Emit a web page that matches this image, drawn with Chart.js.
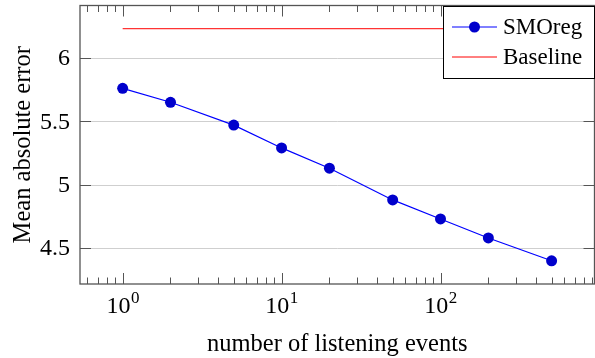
<!DOCTYPE html>
<html>
<head>
<meta charset="utf-8">
<script src="https://cdn.jsdelivr.net/npm/chart.js@4"></script>
<style>
  html, body { margin: 0; padding: 0; background: #fff; overflow: hidden; }
  #wrap { width: 600px; height: 358px; }
</style>
</head>
<body>
<div id="wrap"><canvas id="chart" width="600" height="358"></canvas></div>
<script>
// --- DONNEES ---
const events = [1, 2, 5, 10, 20, 50, 100, 200, 500];
const smoreg = [5.76, 5.65, 5.47, 5.29, 5.13, 4.88, 4.73, 4.58, 4.40];
const baselineX = [1, 500];
const baselineY = [6.23, 6.23];
const yTicks = [4.5, 5, 5.5, 6];
const yTickLabels = ['4.5', '5', '5.5', '6'];
const xMajor = [1, 10, 100];
const xMajorExp = ['0', '1', '2'];
const xMinor = [0.6, 0.7, 0.8, 0.9, 2, 3, 4, 5, 6, 7, 8, 9, 20, 30, 40, 50, 60, 70, 80, 90, 200, 300, 400, 500, 600, 700, 800, 900];

const FONT = '"Liberation Serif", "DejaVu Serif", serif';
const AXIS = '#555';

// --- AXES FACON PGFPLOTS ---
const pgfAxes = {
    id: 'pgfAxes',
    beforeDatasetsDraw(chart) {
        const { ctx, chartArea: a, scales: { y } } = chart;
        ctx.save();
        ctx.strokeStyle = '#cfcfcf';
        ctx.lineWidth = 1;
        yTicks.forEach(v => {
            const py = Math.round(y.getPixelForValue(v)) + 0.5;
            ctx.beginPath(); ctx.moveTo(a.left, py); ctx.lineTo(a.right, py); ctx.stroke();
        });
        ctx.restore();
    },
    afterDatasetsDraw(chart) {
        const { ctx, chartArea: a, scales: { x, y } } = chart;
        ctx.save();
        ctx.strokeStyle = AXIS;
        ctx.lineWidth = 1;

        // ticks x (dedans, haut et bas)
        const tickX = (v, len) => {
            const px = Math.round(x.getPixelForValue(v)) + 0.5;
            if (px < a.left || px > a.right) return;
            ctx.beginPath();
            ctx.moveTo(px, a.bottom); ctx.lineTo(px, a.bottom - len);
            ctx.moveTo(px, a.top); ctx.lineTo(px, a.top + len);
            ctx.stroke();
        };
        xMinor.forEach(v => tickX(v, 6.5));
        xMajor.forEach(v => tickX(v, 11));

        // ticks y
        yTicks.forEach(v => {
            const py = Math.round(y.getPixelForValue(v)) + 0.5;
            ctx.beginPath();
            ctx.moveTo(a.left, py); ctx.lineTo(a.left + 11, py);
            ctx.moveTo(a.right, py); ctx.lineTo(a.right - 11, py);
            ctx.stroke();
        });

        // cadre
        ctx.lineWidth = 1.3;
        ctx.strokeRect(a.left, a.top, a.right - a.left, a.bottom - a.top);

        // labels y
        ctx.fillStyle = '#000';
        ctx.font = '24px ' + FONT;
        ctx.textAlign = 'right';
        ctx.textBaseline = 'middle';
        yTicks.forEach((v, i) => ctx.fillText(yTickLabels[i], 70, y.getPixelForValue(v) + 1));

        // labels x : 10^n
        ctx.textBaseline = 'alphabetic';
        xMajor.forEach((v, i) => {
            const px = x.getPixelForValue(v);
            ctx.font = '24px ' + FONT;
            const w1 = ctx.measureText('10').width;
            ctx.font = '17px ' + FONT;
            const w2 = ctx.measureText(xMajorExp[i]).width;
            const start = px - (w1 + w2) / 2;
            ctx.textAlign = 'left';
            ctx.font = '24px ' + FONT;
            ctx.fillText('10', start, 313);
            ctx.font = '17px ' + FONT;
            ctx.fillText(xMajorExp[i], start + w1 + 0.5, 303);
        });

        // titres
        ctx.font = '24.5px ' + FONT;
        ctx.textAlign = 'center';
        ctx.fillText('number of listening events', (a.left + a.right) / 2, 351);
        ctx.save();
        ctx.translate(30, (a.top + a.bottom) / 2);
        ctx.rotate(-Math.PI / 2);
        ctx.fillText('Mean absolute error', 0, 0);
        ctx.restore();

        // legende
        const lx = 443, ly = 6, lw = 151, lh = 72;
        ctx.fillStyle = '#fff';
        ctx.fillRect(lx, ly, lw, lh);
        ctx.strokeStyle = '#000';
        ctx.lineWidth = 1;
        ctx.strokeRect(lx + 0.5, ly + 0.5, lw, lh);
        chart.data.datasets.forEach((ds, i) => {
            const cy = ly + 21 + i * 30;
            ctx.strokeStyle = ds.borderColor;
            ctx.lineWidth = 1;
            ctx.beginPath(); ctx.moveTo(452, cy); ctx.lineTo(497, cy); ctx.stroke();
            if (ds.pointRadius > 0) {
                ctx.fillStyle = ds.pointBackgroundColor;
                ctx.beginPath(); ctx.arc(474.5, cy, 5.5, 0, Math.PI * 2); ctx.fill();
            }
            ctx.fillStyle = '#000';
            ctx.textAlign = 'left';
            ctx.textBaseline = 'middle';
            ctx.font = '23px ' + FONT;
            ctx.fillText(ds.label, 503, cy + 1);
        });
        ctx.restore();
    }
};

new Chart(document.getElementById('chart'), {
    type: 'line',
    data: {
        datasets: [{
            label: 'SMOreg',
            data: events.map((e, i) => ({ x: e, y: smoreg[i] })),
            borderColor: '#0000ff',
            borderWidth: 1.2,
            pointRadius: 5.5,
            pointBackgroundColor: '#0000cc',
            pointBorderColor: '#0000cc',
            pointBorderWidth: 0,
            tension: 0
        }, {
            label: 'Baseline',
            data: baselineX.map((e, i) => ({ x: e, y: baselineY[i] })),
            borderColor: '#ff0000',
            borderWidth: 1,
            pointRadius: 0,
            tension: 0
        }]
    },
    options: {
        responsive: false,
        animation: false,
        layout: { padding: { left: 80, top: 5, right: 2, bottom: 74 } },
        plugins: { legend: { display: false }, tooltip: { enabled: false } },
        scales: {
            x: { type: 'logarithmic', min: 0.539, max: 931, display: false },
            y: { type: 'linear', min: 4.217, max: 6.413, display: false }
        }
    },
    plugins: [pgfAxes]
});
</script>
</body>
</html>
